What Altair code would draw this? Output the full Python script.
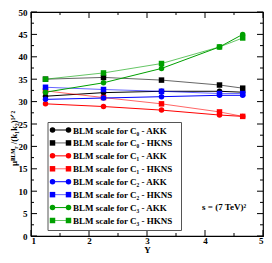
import altair as alt
import pandas as pd

# ---- data ----
rapidity = [1.25, 2.25, 3.25, 4.25, 4.65]
c0_akk = [31.2, 32.0, 32.3, 32.3, 32.1]
c0_hkns = [35.0, 35.4, 34.8, 33.7, 33.0]
c1_akk = [29.5, 28.9, 28.1, 27.0, 26.7]
c1_hkns = [32.4, 30.9, 29.5, 27.7, 26.7]
c2_akk = [30.5, 30.8, 31.1, 31.4, 31.4]
c2_hkns = [33.2, 32.7, 32.3, 31.8, 31.8]
c3_akk = [32.1, 34.2, 37.4, 42.2, 45.0]
c3_hkns = [35.0, 36.4, 38.5, 42.2, 44.2]

series_names = [
    "BLM scale for C₀ - AKK", "BLM scale for C₀ - HKNS",
    "BLM scale for C₁ - AKK", "BLM scale for C₁ - HKNS",
    "BLM scale for C₂ - AKK", "BLM scale for C₂ - HKNS",
    "BLM scale for C₃ - AKK", "BLM scale for C₃ - HKNS",
]
series_values = [c0_akk, c0_hkns, c1_akk, c1_hkns, c2_akk, c2_hkns, c3_akk, c3_hkns]
series_kind = ["AKK", "HKNS"] * 4
series_colors = ["#000000", "#000000", "#ff0000", "#ff0000",
                 "#0000ff", "#0000ff", "#00a000", "#00a000"]

x_ticks = [1, 2, 3, 4, 5]
x_minor = [1.5, 2.5, 3.5, 4.5]
y_ticks = list(range(0, 51, 5))
y_minor = [2.5 + 5 * i for i in range(10)]

note_text = ["s = (7 TeV)²"]
note_x = [4.33]
note_y = [6.5]

# ---- build tables ----
rows = []
for name, vals, kind in zip(series_names, series_values, series_kind):
    for xv, yv in zip(rapidity, vals):
        rows.append({"Y": xv, "v": yv, "series": name, "kind": kind,
                     "marker": "circle" if kind == "AKK" else "square"})
df = pd.DataFrame(rows)
note_df = pd.DataFrame({"Y": note_x, "v": note_y, "t": note_text})
leg_df = pd.DataFrame({"series": series_names, "kind": series_kind,
                       "marker": ["circle" if k == "AKK" else "square" for k in series_kind]})

W, H = 232, 224
FONT = "Liberation Serif"

xs = alt.Scale(domain=[1, 5], nice=False, zero=False)
ys = alt.Scale(domain=[0, 50], nice=False)
cs = alt.Scale(domain=series_names, range=series_colors)
ops = alt.Scale(domain=["AKK", "HKNS"], range=[1, 0.6])

ytitle = "μᴮᴸᴹᵣ /(k₁k₂)¹ᐟ²"

base = alt.Chart(df)

lines = base.mark_line(strokeWidth=1).encode(
    x=alt.X("Y:Q", scale=xs, axis=alt.Axis(
        title="Y", values=x_ticks, format="d", ticks=False, tickSize=0,
        domain=False, grid=False, labelPadding=0, titlePadding=0,
        labelFont=FONT, labelFontWeight="bold", labelFontSize=9,
        titleFont=FONT, titleFontWeight="bold", titleFontSize=9,
        labelColor="black", titleColor="black")),
    y=alt.Y("v:Q", scale=ys, axis=alt.Axis(
        title=ytitle, values=y_ticks, format="d", ticks=False, tickSize=0,
        domain=False, grid=False, labelPadding=4,
        labelFont=FONT, labelFontWeight="bold", labelFontSize=9,
        titleFont=FONT, titleFontWeight="bold", titleFontSize=9,
        titleX=-18, titleY=126, titleAngle=-90, titleAlign="center",
        titleBaseline="middle", labelColor="black", titleColor="black")),
    color=alt.Color("series:N", scale=cs, legend=None),
    strokeOpacity=alt.StrokeOpacity("kind:N", scale=ops, legend=None),
    detail="series:N",
)

points = base.mark_point(filled=True, size=30, opacity=1).encode(
    x=alt.X("Y:Q", scale=xs, axis=None),
    y=alt.Y("v:Q", scale=ys, axis=None),
    color=alt.Color("series:N", scale=cs, legend=None),
    shape=alt.Shape("marker:N", scale=None),
)


def xticks(vals, y0, y1):
    return alt.Chart(pd.DataFrame({"t": vals})).mark_rule(color="black", strokeWidth=1).encode(
        x=alt.X("t:Q", scale=xs, axis=None), y=alt.value(y0), y2=alt.value(y1))


def yticks(vals, x0, x1):
    return alt.Chart(pd.DataFrame({"t": vals})).mark_rule(color="black", strokeWidth=1).encode(
        y=alt.Y("t:Q", scale=ys, axis=None), x=alt.value(x0), x2=alt.value(x1))


tick_layers = [
    xticks(x_ticks, H, H - 6), xticks(x_minor, H, H - 3),
    xticks(x_ticks, 0, 6), xticks(x_minor, 0, 3),
    yticks(y_ticks, 0, 6), yticks(y_minor, 0, 3),
    yticks(y_ticks, W, W - 6), yticks(y_minor, W, W - 3),
]

note = alt.Chart(note_df).mark_text(
    font=FONT, fontWeight="bold", fontSize=9, color="black"
).encode(
    x=alt.X("Y:Q", scale=xs, axis=None),
    y=alt.Y("v:Q", scale=ys, axis=None),
    text="t:N",
)

main = alt.layer(lines, points, *tick_layers, note).resolve_axis(x="independent", y="independent")

# ---- hand-built legend box ----
LX0, LX1, LY0, LY1 = 17, 150.5, 110.5, 218.5
ROW0, ROW1 = 118, 208.5
GX0, GX1, TX = 21.5, 37.5, 42
rows_scale = alt.Scale(type="point", domain=series_names, range=[ROW0, ROW1], padding=0)

box = alt.Chart(pd.DataFrame({"k": [0]})).mark_rect(
    fill="white", stroke="#555555", strokeWidth=1
).encode(x=alt.value(LX0), x2=alt.value(LX1), y=alt.value(LY0), y2=alt.value(LY1))

lbase = alt.Chart(leg_df)
leg_line = lbase.mark_rule(strokeWidth=1).encode(
    x=alt.value(GX0), x2=alt.value(GX1),
    y=alt.Y("series:N", scale=rows_scale, axis=None),
    color=alt.Color("series:N", scale=cs, legend=None),
    strokeOpacity=alt.StrokeOpacity("kind:N", scale=ops, legend=None),
)
leg_pts = [
    lbase.mark_point(filled=True, size=30, opacity=1).encode(
        x=alt.value(gx),
        y=alt.Y("series:N", scale=rows_scale, axis=None),
        color=alt.Color("series:N", scale=cs, legend=None),
        shape=alt.Shape("marker:N", scale=None),
    ) for gx in (GX0, GX1)
]
leg_txt = lbase.mark_text(
    align="left", baseline="middle", font=FONT, fontWeight="bold", fontSize=9, color="black", dy=0.5
).encode(
    x=alt.value(TX),
    y=alt.Y("series:N", scale=rows_scale, axis=None),
    text="series:N",
)
legend = alt.layer(box, leg_line, *leg_pts, leg_txt)

chart = alt.layer(main, legend).resolve_scale(y="independent").resolve_axis(
    x="independent", y="independent"
).properties(
    width=W, height=H,
    autosize=alt.AutoSizeParams(type="none"),
    padding={"left": 23, "top": 4, "right": 1, "bottom": 19},
).configure(background="white").configure_view(stroke="black", strokeWidth=1.2)

chart.save("out.html", embed_options={"renderer": "svg", "actions": False})
